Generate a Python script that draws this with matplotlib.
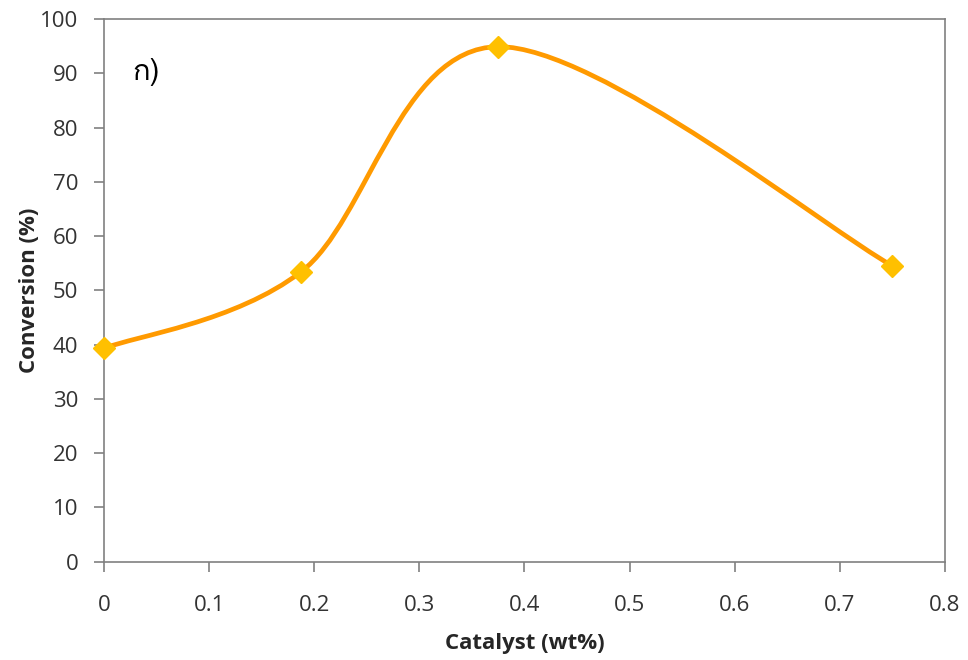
import matplotlib
matplotlib.use("Agg")
import matplotlib.pyplot as plt
from matplotlib.path import Path
from matplotlib.patches import PathPatch
from matplotlib import font_manager
from matplotlib.ft2font import FT2Font
import numpy as np

catalyst = [0.0, 0.1875, 0.375, 0.75]
conversion = [39.3, 53.4, 94.9, 54.5]
x_ticks = [0, 0.1, 0.2, 0.3, 0.4, 0.5, 0.6, 0.7, 0.8]
y_ticks = [0, 10, 20, 30, 40, 50, 60, 70, 80, 90, 100]
panel_label = "ก)"

LINE_COLOR = "#FF9A00"
MARKER_COLOR = "#FFC000"
AXIS_COLOR = "#808080"
TEXT_COLOR = "#333333"

base_family = ["Open Sans", "DejaVu Sans"]


def thai_family():
    # find an installed font that carries the Thai glyph used in the panel label
    for fe in font_manager.fontManager.ttflist:
        try:
            if 0x0E01 in FT2Font(fe.fname).get_charmap():
                return fe.name
        except Exception:
            continue
    return None


plt.rcParams["font.family"] = base_family

fig = plt.figure(figsize=(9.68, 6.6), dpi=100)
ax = fig.add_axes([0.1074, 0.1492, 0.8688, 0.8220])
ax.set_xlim(0, 0.8)
ax.set_ylim(0, 100)


def smooth_path(xs, ys):
    # Catmull-Rom style cubic Bezier through the points (spreadsheet "smoothed line")
    pts = np.column_stack([xs, ys])
    n = len(pts)
    verts = [pts[0]]
    codes = [Path.MOVETO]
    for i in range(n - 1):
        p0 = pts[i - 1] if i > 0 else pts[i]
        p1 = pts[i]
        p2 = pts[i + 1]
        p3 = pts[i + 2] if i + 2 < n else pts[i + 1]
        c1 = p1 + (p2 - p0) / 6.0
        c2 = p2 - (p3 - p1) / 6.0
        verts += [c1, c2, p2]
        codes += [Path.CURVE4] * 3
    return Path(verts, codes)


# smoothing is computed in pixel space so the curve shape follows the drawn scale
disp = ax.transData.transform(np.column_stack([catalyst, conversion]))
path_disp = smooth_path(disp[:, 0], disp[:, 1])
path_data = ax.transData.inverted().transform_path(path_disp)
ax.add_patch(PathPatch(path_data, facecolor="none", edgecolor=LINE_COLOR,
                       lw=3.4, capstyle="round", joinstyle="round", zorder=3))
ax.plot(catalyst, conversion, linestyle="none", marker="D", markersize=11.5,
        markerfacecolor=MARKER_COLOR, markeredgecolor=MARKER_COLOR, zorder=4,
        clip_on=False)

ax.set_xticks(x_ticks)
ax.set_xticklabels([f"{t:g}" for t in x_ticks])
ax.set_yticks(y_ticks)
ax.set_yticklabels([str(t) for t in y_ticks])

for s in ax.spines.values():
    s.set_color(AXIS_COLOR)
    s.set_linewidth(1.2)
ax.tick_params(direction="out", length=7, width=1.2, color=AXIS_COLOR,
               labelcolor=TEXT_COLOR, labelsize=16)
ax.tick_params(axis="x", pad=17)
ax.tick_params(axis="y", pad=11.5)

ax.set_xlabel("Catalyst (wt%)", fontsize=16, fontweight="bold",
              color="#262626", labelpad=12)
ax.set_ylabel("Conversion (%)", fontsize=16, fontweight="bold",
              color="#262626", labelpad=0)

tf = thai_family()
label_family = ([tf] if tf else []) + base_family
ax.text(0.0275, 90.2, panel_label, fontsize=21, color="black",
        family=label_family, ha="left", va="center")

fig.savefig("out.png", dpi=100)
